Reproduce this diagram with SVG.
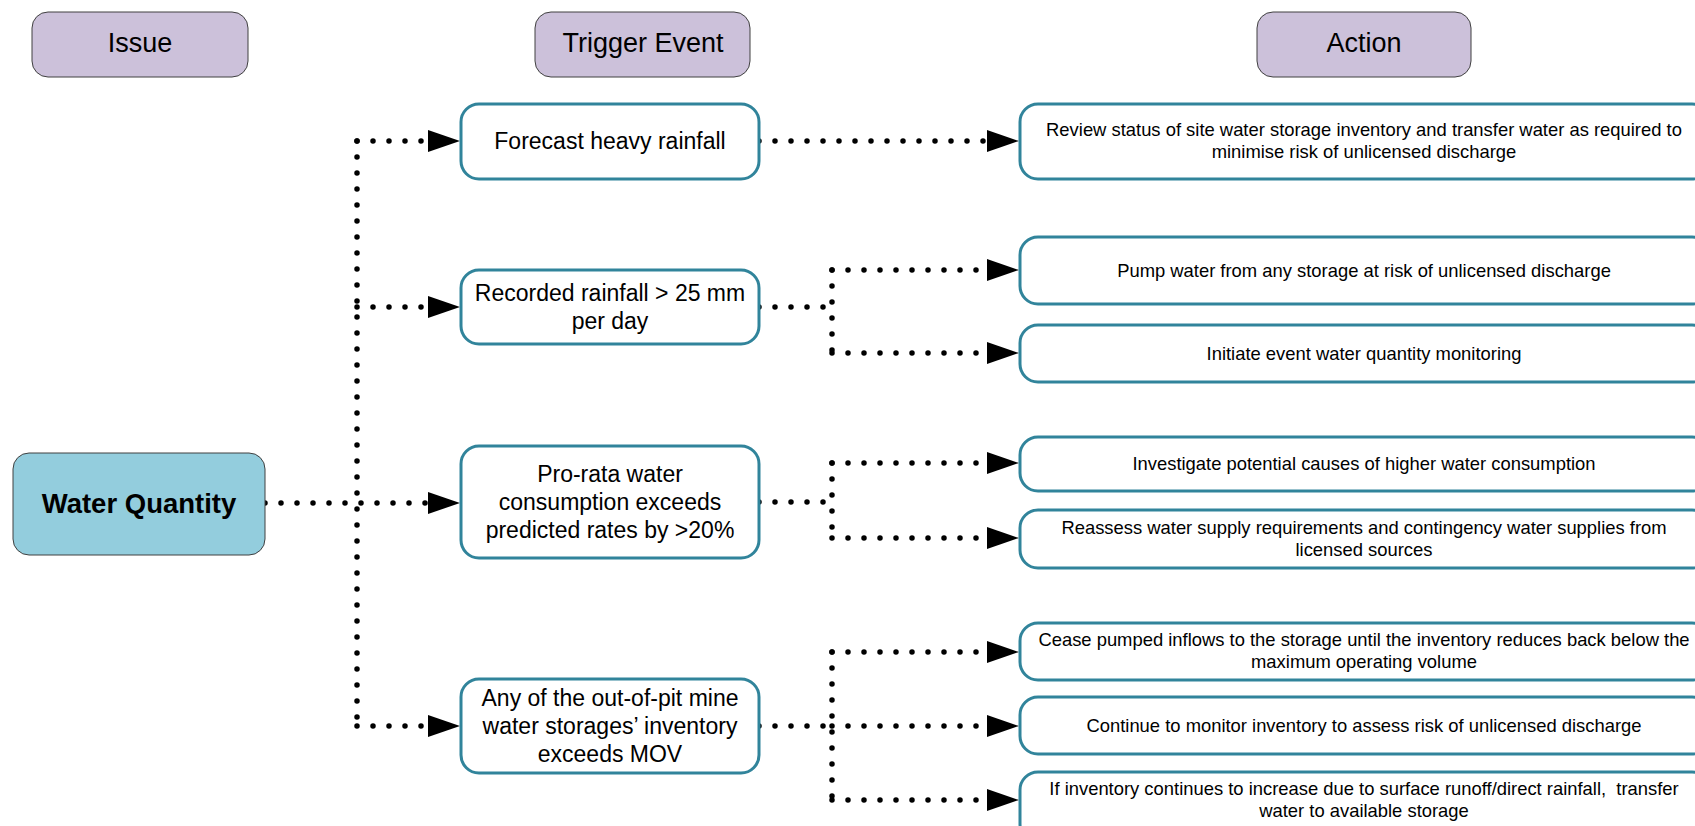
<svg xmlns="http://www.w3.org/2000/svg" width="1695" height="826" viewBox="0 0 1695 826">
<style>
.hdr{fill:#CCC1DA;stroke:#404040;stroke-width:1}
.iss{fill:#93CDDD;stroke:#404040;stroke-width:1}
.box{fill:#FFFFFF;stroke:#31849B;stroke-width:3}
text{font-family:"Liberation Sans",Arial,sans-serif;fill:#000;text-anchor:middle}
.th{font-size:27px}
.ti{font-size:27.5px;font-weight:bold}
.tt{font-size:23px}
.ta{font-size:18.4px}
.c{fill:none;stroke:#000;stroke-width:5.5;stroke-linecap:round;stroke-dasharray:0 16}
.a{fill:none;stroke:#000;stroke-width:5.5;stroke-linecap:round;stroke-dasharray:0 16;marker-end:url(#arr)}
</style>
<defs>
<marker id="arr" markerUnits="userSpaceOnUse" markerWidth="32" markerHeight="22" refX="0" refY="11" orient="auto" viewBox="0 0 32 22">
<path d="M0,0 L32,11 L0,22 Z" fill="#000"/>
</marker>
</defs>
<rect width="1695" height="826" fill="#FFFFFF"/>

<g id="connectors">
<path class="c" d="M357,141 V726"/>
<path class="a" d="M357,141 H428"/>
<path class="a" d="M357,307 H428"/>
<path class="a" d="M265,503 H428"/>
<path class="a" d="M357,726 H428"/>
<path class="a" d="M759,141 H987"/>
<path class="c" d="M759,307 H832"/>
<path class="c" d="M832,270 V353"/>
<path class="a" d="M832,270 H987"/>
<path class="a" d="M832,353 H987"/>
<path class="c" d="M759,502 H832"/>
<path class="c" d="M832,463 V538"/>
<path class="a" d="M832,463 H987"/>
<path class="a" d="M832,538 H987"/>
<path class="c" d="M759,726 H832"/>
<path class="c" d="M832,652 V800"/>
<path class="a" d="M832,652 H987"/>
<path class="a" d="M832,726 H987"/>
<path class="a" d="M832,800 H987"/>
</g>

<g id="hdr-issue"><rect class="hdr" x="32" y="12" width="216" height="65" rx="16"/><text class="th" x="140" y="52">Issue</text></g>
<g id="hdr-trigger"><rect class="hdr" x="535" y="12" width="215" height="65" rx="16"/><text class="th" x="643" y="52">Trigger Event</text></g>
<g id="hdr-action"><rect class="hdr" x="1257" y="12" width="214" height="65" rx="16"/><text class="th" x="1364" y="52">Action</text></g>

<g id="issue-water"><rect class="iss" x="13" y="453" width="252" height="102" rx="16"/><text class="ti" x="139" y="513">Water Quantity</text></g>

<g id="t-forecast"><rect class="box" x="461" y="104" width="298" height="75" rx="18"/><text class="tt" x="610" y="149">Forecast heavy rainfall</text></g>
<g id="t-recorded"><rect class="box" x="461" y="270" width="298" height="74" rx="18"/><text class="tt" x="610" y="301">Recorded rainfall &gt; 25 mm</text><text class="tt" x="610" y="329">per day</text></g>
<g id="t-prorata"><rect class="box" x="461" y="446" width="298" height="112" rx="18"/><text class="tt" x="610" y="482">Pro-rata water</text><text class="tt" x="610" y="510">consumption exceeds</text><text class="tt" x="610" y="538">predicted rates by &gt;20%</text></g>
<g id="t-any"><rect class="box" x="461" y="679" width="298" height="94" rx="18"/><text class="tt" x="610" y="706">Any of the out-of-pit mine</text><text class="tt" x="610" y="734">water storages’ inventory</text><text class="tt" x="610" y="762">exceeds MOV</text></g>

<g id="a-review"><rect class="box" x="1020" y="104" width="690" height="75" rx="18"/><text class="ta" x="1364" y="136">Review status of site water storage inventory and transfer water as required to</text><text class="ta" x="1364" y="158">minimise risk of unlicensed discharge</text></g>
<g id="a-pump"><rect class="box" x="1020" y="237" width="690" height="67" rx="18"/><text class="ta" x="1364" y="277">Pump water from any storage at risk of unlicensed discharge</text></g>
<g id="a-initiate"><rect class="box" x="1020" y="325" width="690" height="57" rx="18"/><text class="ta" x="1364" y="360">Initiate event water quantity monitoring</text></g>
<g id="a-investigate"><rect class="box" x="1020" y="437" width="690" height="54" rx="18"/><text class="ta" x="1364" y="470">Investigate potential causes of higher water consumption</text></g>
<g id="a-reassess"><rect class="box" x="1020" y="510" width="690" height="58" rx="18"/><text class="ta" x="1364" y="534">Reassess water supply requirements and contingency water supplies from</text><text class="ta" x="1364" y="556">licensed sources</text></g>
<g id="a-cease"><rect class="box" x="1020" y="623" width="690" height="57" rx="18"/><text class="ta" x="1364" y="646">Cease pumped inflows to the storage until the inventory reduces back below the</text><text class="ta" x="1364" y="668">maximum operating volume</text></g>
<g id="a-continue"><rect class="box" x="1020" y="697" width="690" height="57" rx="18"/><text class="ta" x="1364" y="732">Continue to monitor inventory to assess risk of unlicensed discharge</text></g>
<g id="a-if"><rect class="box" x="1020" y="772" width="690" height="70" rx="18"/><text class="ta" x="1364" y="795">If inventory continues to increase due to surface runoff/direct rainfall,&#160; transfer</text><text class="ta" x="1364" y="817">water to available storage</text></g>
</svg>
